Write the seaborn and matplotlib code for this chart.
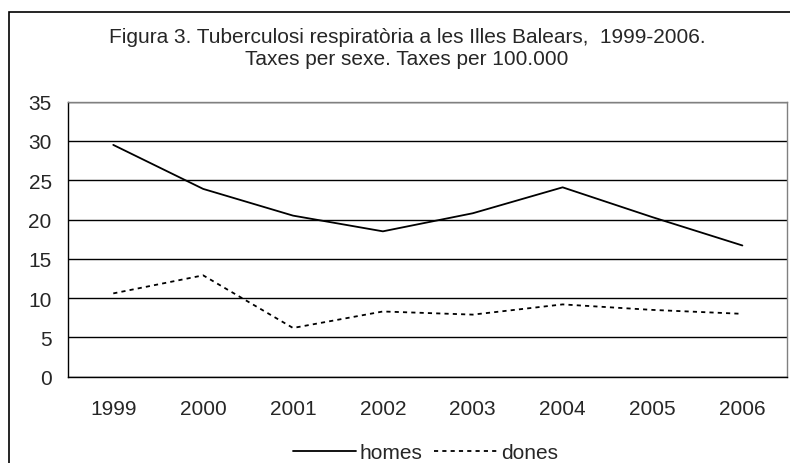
import numpy as np
import pandas as pd
import matplotlib
matplotlib.use("Agg")
import matplotlib.pyplot as plt
import seaborn as sns
from matplotlib.patches import Rectangle

# -------------------------------------------------
# DATA
# -------------------------------------------------
years = [1999, 2000, 2001, 2002, 2003, 2004, 2005, 2006]
homes = [29.5, 23.9, 20.5, 18.5, 20.8, 24.1, 20.3, 16.7]
dones = [10.6, 12.9, 6.2, 8.3, 7.9, 9.2, 8.5, 8.0]
series_names = ["homes", "dones"]
y_ticks = [0, 5, 10, 15, 20, 25, 30, 35]
title = ("Figura 3. Tuberculosi respiratòria a les Illes Balears,  1999-2006.\n"
         "Taxes per sexe. Taxes per 100.000")

df = pd.DataFrame({
    "any": years * 2,
    "taxa": homes + dones,
    "sexe": [series_names[0]] * len(years) + [series_names[1]] * len(years),
})

# -------------------------------------------------
# STYLE
# -------------------------------------------------
sns.set_style("white")
plt.rcParams["font.family"] = ["Liberation Sans", "DejaVu Sans"]
FS = 15

fig = plt.figure(figsize=(7.9, 4.64), dpi=100)
ax = fig.add_axes([0.0865, 0.186, 0.9101, 0.5927])

styles = {"homes": "-", "dones": (0, (2.3, 2.3))}
for name in series_names:
    sub = df[df["sexe"] == name]
    sns.lineplot(data=sub, x="any", y="taxa", ax=ax, color="black",
                 linewidth=1.3, linestyle=styles[name], label=name, legend=False)

# axes
ax.set_xlim(years[0] - 0.5, years[-1] + 0.5)
ax.set_ylim(y_ticks[0], y_ticks[-1])
ax.set_yticks(y_ticks)
ax.set_yticklabels([str(t) for t in y_ticks], fontsize=FS)

bounds = np.arange(years[0] - 0.5, years[-1] + 1.0, 1.0)
ax.set_xticks(bounds)
ax.set_xticklabels([""] * len(bounds))
ax.set_xticks(years, minor=True)
ax.set_xticklabels([str(y) for y in years], minor=True, fontsize=FS)
ax.tick_params(axis="x", which="major", direction="out", length=5, width=1, color="black")
ax.tick_params(axis="x", which="minor", length=0, pad=16)
ax.tick_params(axis="y", direction="out", length=5, width=1, color="black", pad=7)
ax.set_xlabel("")
ax.set_ylabel("")

ax.yaxis.grid(True, color="black", linewidth=1)
ax.set_axisbelow(True)
for side in ["left", "bottom"]:
    ax.spines[side].set_color("black")
    ax.spines[side].set_linewidth(1)
for side in ["top", "right"]:
    ax.spines[side].set_color("#808080")
    ax.spines[side].set_linewidth(1)

# title
fig.text(0.515, 0.94, title, ha="center", va="top", fontsize=FS, linespacing=1.2)

# legend
handles, labels = ax.get_legend_handles_labels()
fig.legend(handles, labels, loc="center", bbox_to_anchor=(0.5386, 0.022), ncol=2,
           frameon=False, fontsize=FS, handlelength=3.0, handletextpad=0.2,
           columnspacing=0.55)

# outer chart border
fig.patches.append(Rectangle((9 / 790, -0.05), 1.2, 1.05 - 13 / 464,
                             transform=fig.transFigure, fill=False,
                             edgecolor="black", linewidth=1.2))

fig.savefig("out.png", dpi=100)
